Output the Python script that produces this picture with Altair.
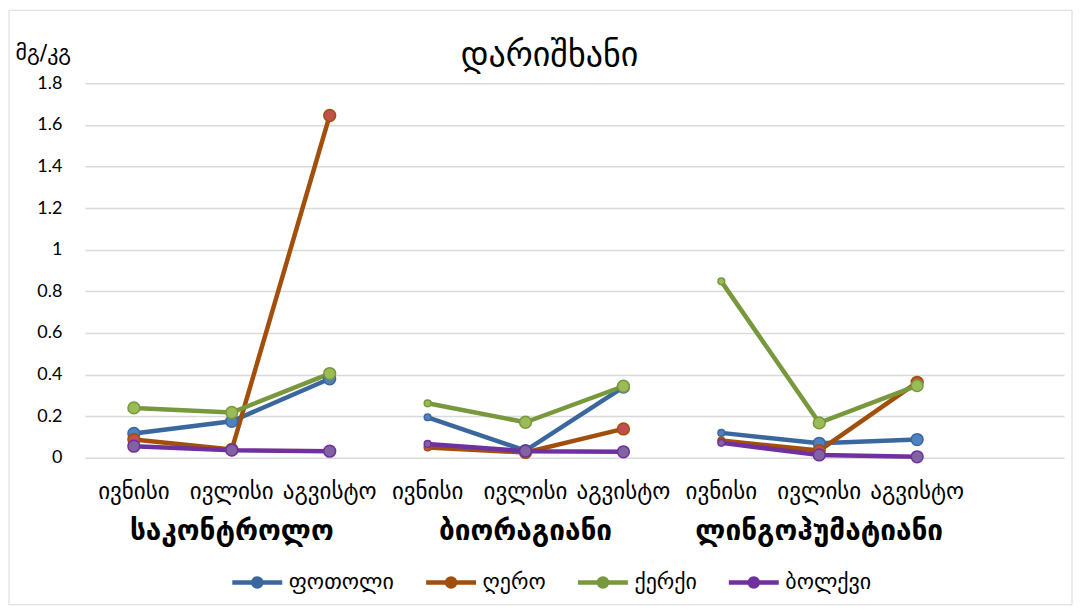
import altair as alt
import pandas as pd

months = ["ივნისი", "ივლისი", "აგვისტო"]
groups = ["საკონტროლო", "ბიორაგიანი", "ლინგოჰუმატიანი"]
series = ["ფოთოლი", "ღერო", "ქერქი", "ბოლქვი"]
chart_title = "დარიშხანი"
unit_label = "მგ/კგ"

fotoli = [0.117, 0.176, 0.38, 0.195, 0.035, 0.34, 0.12, 0.07, 0.088]
ghero = [0.088, 0.04, 1.645, 0.05, 0.026, 0.139, 0.083, 0.035, 0.363]
kerki = [0.24, 0.218, 0.405, 0.262, 0.171, 0.344, 0.848, 0.168, 0.347]
bolkvi = [0.056, 0.037, 0.032, 0.067, 0.032, 0.029, 0.072, 0.014, 0.005]

y_ticks = [0, 0.2, 0.4, 0.6, 0.8, 1.0, 1.2, 1.4, 1.6, 1.8]

line_colors = ["#3a689e", "#a34f0c", "#78983c", "#7030a0"]
marker_fill = ["#4f81bd", "#c0504d", "#9bbb59", "#8064a2"]

rows = []
for k, (s, vals) in enumerate(zip(series, [fotoli, ghero, kerki, bolkvi])):
    for i, v in enumerate(vals):
        rows.append({"series": s, "order": k, "idx": i, "group": groups[i // 3],
                     "month": months[i % 3], "value": v})
df = pd.DataFrame(rows)

month_df = pd.DataFrame({"idx": list(range(9)), "label": months * 3})
group_df = pd.DataFrame({"idx": [1, 4, 7], "label": groups})
title_df = pd.DataFrame({"label": [chart_title]})
frame_df = pd.DataFrame({"a": [0]})

GEO = "DejaVu Sans"

xscale = alt.Scale(domain=[-0.5, 9.5], nice=False, zero=False)
x = alt.X("idx:Q", scale=xscale, axis=None)
y = alt.Y("value:Q", scale=alt.Scale(domain=[0, 1.8], nice=False),
          axis=alt.Axis(values=y_ticks, labelExpr="format(datum.value, '.1~f')",
                        grid=True, gridColor="#d9d9d9", gridWidth=1.5,
                        domain=False, ticks=False, labelPadding=23,
                        labelFont="Lato", labelFontSize=18, labelColor="#000",
                        title=unit_label, titleAngle=0, titleX=-70, titleY=-31,
                        titleAlign="left", titleBaseline="middle",
                        titleFont=GEO, titleFontSize=22, titleFontWeight="normal",
                        titleColor="#000"))

stroke_scale = alt.Scale(domain=series, range=line_colors)

legend_path = "M-1,0L1,0M0.16,0A0.16,0.16,0,1,1,-0.16,0A0.16,0.16,0,1,1,0.16,0Z"

lines = alt.Chart(df).mark_line(strokeWidth=4.5).encode(
    x=x, y=y,
    stroke=alt.Stroke("series:N", scale=stroke_scale,
                      legend=alt.Legend(title=None, orient="none", direction="horizontal",
                                        legendX=145, legendY=472,
                                        symbolType=legend_path, symbolSize=2500,
                                        symbolStrokeWidth=4.5, labelFont=GEO,
                                        labelFontSize=22, labelColor="#000",
                                        columnPadding=22, labelOffset=4)),
    detail="group:N",
    order="order:Q",
)

points = alt.Chart(df).mark_point(filled=True, strokeWidth=1.5, opacity=1).encode(
    x=x, y=y,
    stroke=alt.Stroke("series:N", scale=stroke_scale, legend=None),
    fill=alt.Fill("series:N", scale=alt.Scale(domain=series, range=marker_fill), legend=None),
    size=alt.condition("datum.idx == 3 || datum.idx == 6", alt.value(45), alt.value(140)),
)

month_text = alt.Chart(month_df).mark_text(font=GEO, fontSize=23, color="#000",
                                           baseline="middle").encode(
    x=alt.X("idx:Q", scale=xscale, axis=None),
    y=alt.value(409), text="label:N")

group_text = alt.Chart(group_df).mark_text(font=GEO, fontSize=28, fontWeight="bold",
                                           color="#000", baseline="middle").encode(
    x=alt.X("idx:Q", scale=xscale, axis=None),
    y=alt.value(449), text="label:N")

title_text = alt.Chart(title_df).mark_text(font=GEO, fontSize=34, color="#000",
                                           baseline="middle", align="center").encode(
    x=alt.value(465), y=alt.value(-27), text="label:N")

frame = alt.Chart(frame_df).mark_rect(fill=None, stroke="#d9d9d9", strokeWidth=1).encode(
    x=alt.value(-76), x2=alt.value(988), y=alt.value(-73), y2=alt.value(522))

chart = alt.layer(frame, lines, points, month_text, group_text, title_text).properties(
    width=980, height=375,
    background="white",
    autosize=alt.AutoSizeParams(type="none"),
    padding={"left": 77, "top": 75, "right": 9, "bottom": 150},
).configure_view(stroke=None)

chart.save("out.html", embed_options={"renderer": "svg", "actions": False})
